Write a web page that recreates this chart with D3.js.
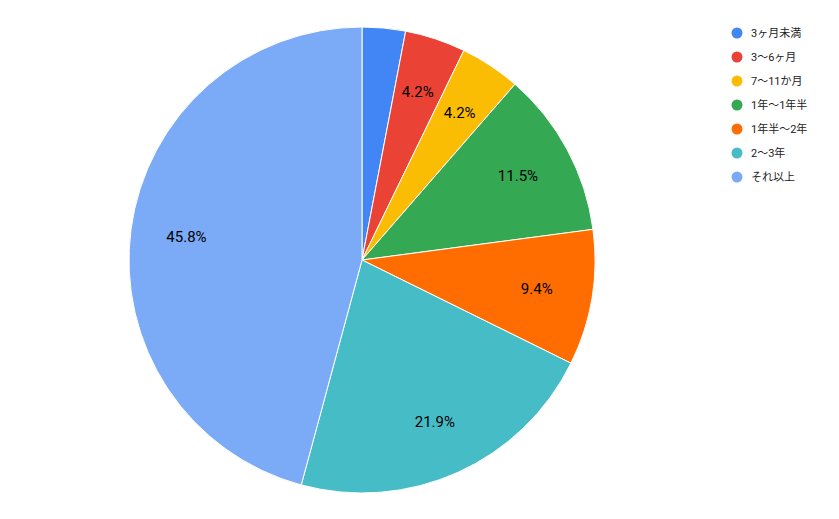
<!DOCTYPE html>
<html><head><meta charset="utf-8">
<script src="https://cdn.jsdelivr.net/npm/d3@7"></script>
<style>body{margin:0;background:#fff}</style>
</head><body>
<svg id="chart" width="839" height="519"></svg>
<script>
const categories = ["3ヶ月未満", "3〜6ヶ月", "7〜11か月", "1年〜1年半", "1年半〜2年", "2〜3年", "それ以上"];
const values = [3.0, 4.2, 4.2, 11.5, 9.4, 21.9, 45.8];
const colors = ["#4285F4", "#EA4335", "#FBBC04", "#34A853", "#FF6D01", "#46BDC6", "#7BAAF7"];

const svg = d3.select("#chart");
const cx = 362, cy = 260, r = 233;
const font = "Roboto, Arial, sans-serif";

const pie = d3.pie().sort(null).value(d => d)(values);
const arc = d3.arc().innerRadius(0).outerRadius(r);
const labelArc = d3.arc().innerRadius(r * 0.76).outerRadius(r * 0.76);

const g = svg.append("g").attr("transform", `translate(${cx},${cy})`);
g.selectAll("path").data(pie).join("path")
  .attr("d", arc)
  .attr("fill", (d, i) => colors[i])
  .attr("stroke", "#fff").attr("stroke-width", 1);

g.selectAll("text").data(pie.filter(d => d.data >= 4)).join("text")
  .attr("transform", d => `translate(${labelArc.centroid(d)})`)
  .attr("text-anchor", "middle").attr("dy", "0.35em")
  .attr("font-family", font).attr("font-size", 15)
  .text(d => d.data.toFixed(1) + "%");

const legend = svg.append("g").attr("transform", "translate(737,33)");
const item = legend.selectAll("g").data(categories).join("g")
  .attr("transform", (d, i) => `translate(0,${i * 24})`);
item.append("circle").attr("r", 5.5).attr("fill", (d, i) => colors[i]);
item.append("text").attr("x", 14).attr("dy", "0.35em")
  .attr("font-family", "Roboto, 'Noto Sans CJK JP', sans-serif").attr("font-size", 11)
  .attr("fill", "#222").text(d => d);
</script>
</body></html>
